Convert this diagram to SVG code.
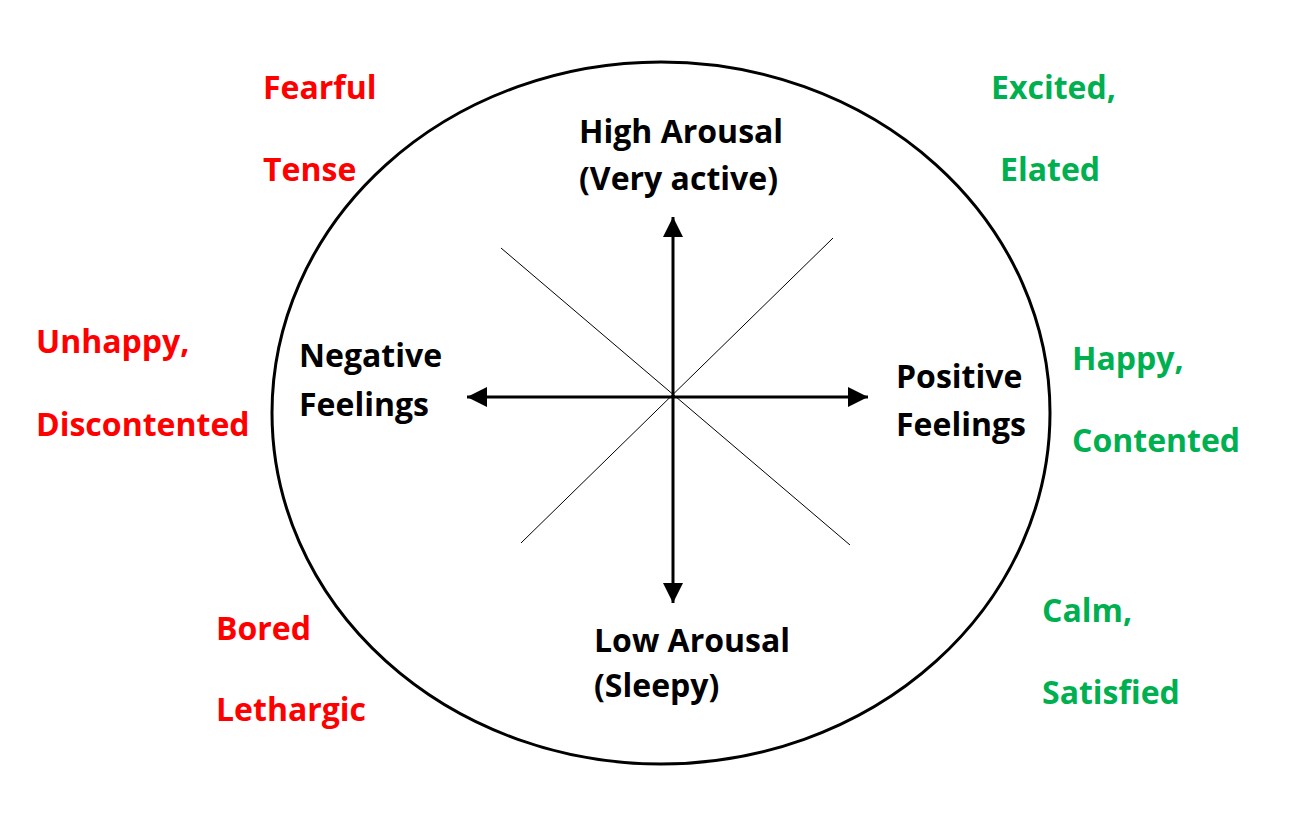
<svg xmlns="http://www.w3.org/2000/svg" width="1300" height="829" viewBox="0 0 1300 829">
<style>
text{font-family:"Open Sans","Noto Sans",sans-serif;font-weight:bold;font-size:32px}
.r{fill:#FF0000}.g{fill:#00B050}.k{fill:#000}
.ax{stroke:#000;stroke-width:3;fill:none}
.dg{stroke:#000;stroke-width:1;fill:none}
</style>
<defs>
<marker id="ah" viewBox="0 0 20 20" refX="20" refY="10" markerWidth="20" markerHeight="20" markerUnits="userSpaceOnUse" orient="auto">
<path d="M0,0 L20,10 L0,20 Z" fill="#000"/>
</marker>
</defs>
<rect width="1300" height="829" fill="#fff"/>
<g id="circle"><ellipse cx="661" cy="413" rx="389" ry="351" fill="none" stroke="#000" stroke-width="3"/></g>
<g id="connectors">
<line class="dg" x1="501" y1="248" x2="850" y2="545"/>
<line class="dg" x1="833" y1="238" x2="521" y2="543"/>
<line class="ax" x1="673" y1="397" x2="673" y2="217" marker-end="url(#ah)"/>
<line class="ax" x1="673" y1="397" x2="673" y2="603" marker-end="url(#ah)"/>
<line class="ax" x1="673" y1="397" x2="467" y2="397" marker-end="url(#ah)"/>
<line class="ax" x1="673" y1="397" x2="868" y2="397" marker-end="url(#ah)"/>
</g>
<g id="high"><text class="k" x="579" y="143">High Arousal</text><text class="k" x="579" y="190">(Very active)</text></g>
<g id="low"><text class="k" x="594" y="652">Low Arousal</text><text class="k" x="594" y="697">(Sleepy)</text></g>
<g id="negative"><text class="k" x="299" y="367">Negative</text><text class="k" x="299" y="416">Feelings</text></g>
<g id="positive"><text class="k" x="896" y="388">Positive</text><text class="k" x="896" y="436">Feelings</text></g>
<g id="fearful"><text class="r" x="263" y="99">Fearful</text><text class="r" x="263" y="181">Tense</text></g>
<g id="unhappy"><text class="r" x="36" y="353">Unhappy,</text><text class="r" x="36" y="436">Discontented</text></g>
<g id="bored"><text class="r" x="216" y="640">Bored</text><text class="r" x="216" y="721">Lethargic</text></g>
<g id="excited"><text class="g" x="991" y="99">Excited,</text><text class="g" x="1000" y="181">Elated</text></g>
<g id="happy"><text class="g" x="1072" y="370">Happy,</text><text class="g" x="1072" y="452">Contented</text></g>
<g id="calm"><text class="g" x="1042" y="622">Calm,</text><text class="g" x="1042" y="704">Satisfied</text></g>
</svg>
